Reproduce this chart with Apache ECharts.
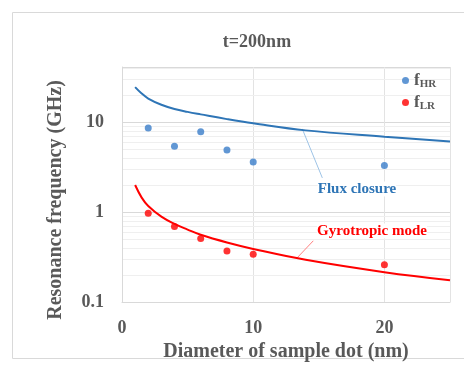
<!DOCTYPE html>
<html>
<head>
<meta charset="utf-8">
<script src="https://cdn.jsdelivr.net/npm/echarts@6/dist/echarts.min.js"></script>
<style>
  html, body { margin: 0; padding: 0; background: #fff; }
  #chart { width: 464px; height: 367px; }
</style>
</head>
<body>
<div id="chart"></div>
<script>
// measured points
const diameters = [2, 4, 6, 8, 10, 20]
const fHR = [8.6, 5.4, 7.8, 4.9, 3.6, 3.3]
const fLR = [0.97, 0.69, 0.51, 0.37, 0.34, 0.26]

// fitted curves
const curveX = [1, 1.5, 2, 3, 4, 5, 6, 8, 10, 14, 20, 25]
const fluxCurve = [24.5, 20.8, 18.3, 15.6, 14.0, 13.0, 12.2, 10.8, 9.7, 8.1, 6.9, 6.1]
const gyroCurve = [2.0, 1.45, 1.17, 0.89, 0.74, 0.64, 0.56, 0.46, 0.39, 0.295, 0.215, 0.175]

// leader lines for the annotations
const fluxLeader = [[13.74, 8.42], [15.27, 2.4]]
const gyroLeader = [[14.58, 0.48], [13.28, 0.303]]

// light minor grid lines on the log axis
const minorTicks = [0.2, 0.3, 0.4, 0.5, 0.6, 0.7, 0.8, 0.9, 2, 3, 4, 5, 6, 7, 8, 9, 20, 30, 40]

const xTicks = [0, 10, 20]
const yMin = 0.1
const yMax = 41

const font = "'Liberation Serif', 'Times New Roman', serif"
const gray = '#595959'
const blue = '#2e75b6'
const red = '#ff0000'

const chart = echarts.init(document.getElementById('chart'))

const zip = (xs, ys) => xs.map((x, i) => [x, ys[i]])

const legendFmt = name => name === 'fHR' ? '{f|f}{s|HR}' : '{f|f}{s|LR}'

chart.setOption({
  animation: false,
  textStyle: { fontFamily: font },
  title: {
    text: 't=200nm',
    left: 252,
    top: 28,
    textAlign: 'center',
    textStyle: { fontFamily: font, fontSize: 18, fontWeight: 'bold', color: gray }
  },
  grid: { left: 122, right: 14, top: 67, bottom: 64 },
  legend: {
    orient: 'vertical',
    left: 397,
    top: 67,
    itemGap: 4,
    itemWidth: 7,
    itemHeight: 7,
    icon: 'circle',
    data: ['fHR', 'fLR'],
    formatter: legendFmt,
    textStyle: {
      color: gray,
      rich: {
        f: { fontFamily: font, fontSize: 17, fontWeight: 'bold', color: gray },
        s: { fontFamily: font, fontSize: 11, fontWeight: 'bold', color: gray, padding: [8, 0, 0, 0] }
      }
    }
  },
  xAxis: {
    type: 'value',
    min: 0,
    max: 25,
    interval: 10,
    name: 'Diameter of sample dot (nm)',
    nameLocation: 'middle',
    nameGap: 38,
    nameTextStyle: { fontFamily: font, fontSize: 20, fontWeight: 'bold', color: gray },
    axisLine: { lineStyle: { color: '#d9d9d9' } },
    axisTick: { show: false },
    axisLabel: {
      margin: 17,
      fontFamily: font, fontSize: 18, fontWeight: 'bold', color: gray,
      showMaxLabel: false,
      formatter: v => xTicks.includes(v) ? String(v) : ''
    },
    splitLine: { show: true, lineStyle: { color: '#e3e3e3' } }
  },
  yAxis: {
    type: 'log',
    min: yMin,
    max: yMax,
    logBase: 10,
    axisLine: { show: true, lineStyle: { color: '#d9d9d9' } },
    axisTick: { show: false },
    axisLabel: {
      margin: 18,
      fontFamily: font, fontSize: 18, fontWeight: 'bold', color: gray,
      showMaxLabel: false,
      formatter: v => {
        const l = Math.log10(v)
        return Math.abs(l - Math.round(l)) < 1e-6 ? String(Number(v.toPrecision(3))) : ''
      }
    },
    splitLine: { show: true, lineStyle: { color: '#d9d9d9' } }
  },
  graphic: [
    {
      type: 'rect',
      shape: { x: 12.5, y: 12.5, width: 470, height: 346 },
      style: { fill: 'none', stroke: '#d9d9d9', lineWidth: 1 },
      z: -1
    },
    {
      type: 'text',
      x: 56, y: 200,
      rotation: Math.PI / 2,
      style: {
        text: 'Resonance frequency (GHz)',
        font: 'bold 20px ' + font,
        fill: gray,
        align: 'center',
        verticalAlign: 'middle'
      }
    },
    {
      type: 'text',
      x: 357, y: 189,
      z: 100,
      style: {
        text: 'Flux closure',
        font: 'bold 15px ' + font,
        fill: blue,
        align: 'center',
        verticalAlign: 'middle',
        backgroundColor: '#fff'
      }
    },
    {
      type: 'text',
      x: 372, y: 231,
      z: 100,
      style: {
        text: 'Gyrotropic mode',
        font: 'bold 15px ' + font,
        fill: red,
        align: 'center',
        verticalAlign: 'middle',
        backgroundColor: '#fff'
      }
    }
  ],
  series: [
    {
      name: 'minor',
      type: 'line',
      data: [],
      silent: true,
      z: 0,
      markLine: {
        silent: true,
        symbol: 'none',
        z: 0,
        label: { show: false },
        lineStyle: { color: '#efefef', type: 'solid', width: 1 },
        data: minorTicks.map(v => ({ yAxis: v }))
      }
    },
    {
      name: 'flux',
      type: 'line',
      smooth: 0.4,
      z: 6,
      showSymbol: false,
      data: zip(curveX, fluxCurve),
      lineStyle: { color: blue, width: 2 },
      markLine: {
        silent: true,
        symbol: 'none',
        label: { show: false },
        lineStyle: { color: '#9dc3e6', type: 'solid', width: 1 },
        data: [[{ coord: fluxLeader[0] }, { coord: fluxLeader[1] }]]
      }
    },
    {
      name: 'gyro',
      type: 'line',
      smooth: 0.4,
      z: 6,
      showSymbol: false,
      data: zip(curveX, gyroCurve),
      lineStyle: { color: red, width: 2 },
      markLine: {
        silent: true,
        symbol: 'none',
        label: { show: false },
        lineStyle: { color: '#ff8080', type: 'solid', width: 1 },
        data: [[{ coord: gyroLeader[0] }, { coord: gyroLeader[1] }]]
      }
    },
    {
      name: 'fHR',
      type: 'scatter',
      symbolSize: 7,
      data: zip(diameters, fHR),
      itemStyle: { color: '#3a7dc9' },
      z: 7
    },
    {
      name: 'fLR',
      type: 'scatter',
      symbolSize: 7,
      data: zip(diameters, fLR),
      itemStyle: { color: red },
      z: 7
    }
  ]
})
</script>
</body>
</html>
